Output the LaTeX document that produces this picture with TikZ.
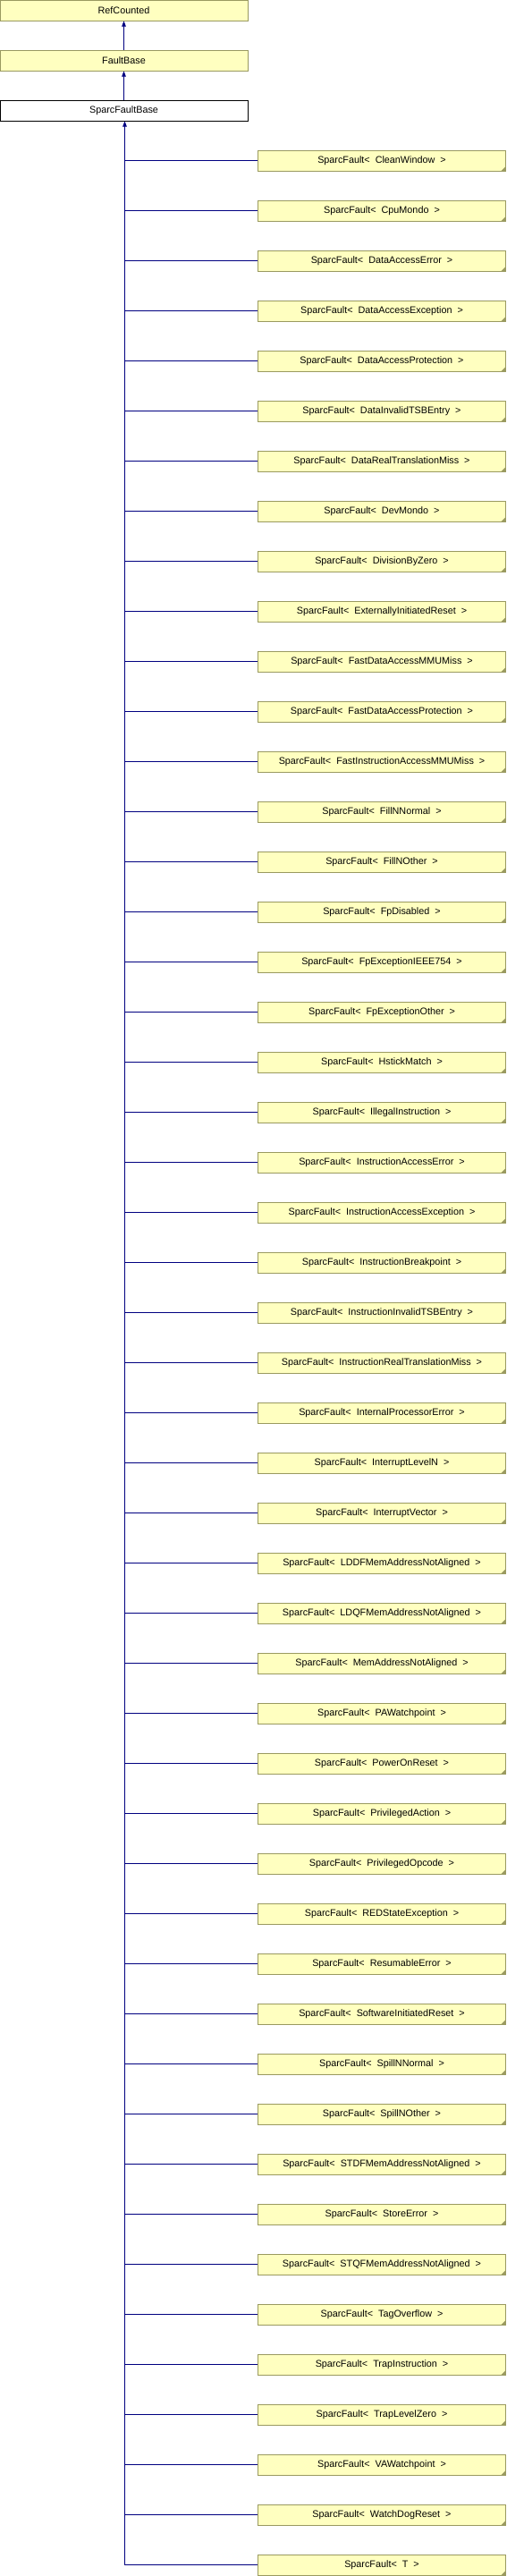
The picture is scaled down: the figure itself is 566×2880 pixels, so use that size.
\documentclass[tikz,border=0pt]{standalone}
\usepackage{fontspec}
\setmainfont{Liberation Sans}
\usetikzlibrary{arrows.meta}
\definecolor{boxfill}{HTML}{FFFFC0}
\definecolor{boxline}{HTML}{9A9A60}
\definecolor{edge}{HTML}{000080}
\begin{document}
\begin{tikzpicture}[x=1pt,y=-1pt,
  cls/.style={draw=boxline,fill=boxfill,line width=1pt,minimum height=23pt,inner sep=0pt,font=\fontsize{10.8}{12}\selectfont},
  plain/.style={draw=black,fill=white,line width=1pt,minimum height=23pt,inner sep=0pt,font=\fontsize{10.8}{12}\selectfont},
  inh/.style={draw=edge,line width=0.9pt,-{Triangle[length=6pt,width=4.5pt]}},
  ln/.style={draw=edge,line width=0.9pt}]
\useasboundingbox (0,0) rectangle (566,2880);
\node[cls,minimum width=277pt] (rc) at (138.5,11.5) {RefCounted};
\node[cls,minimum width=277pt] (fb) at (138.5,67.5) {FaultBase};
\node[plain,minimum width=277pt] (sfb) at (138.5,123.5) {SparcFaultBase};
\draw[inh] (fb.north) -- (rc.south);
\draw[inh] (sfb.north) -- (fb.south);
\foreach \n [count=\i from 0] in {CleanWindow,CpuMondo,DataAccessError,DataAccessException,DataAccessProtection,DataInvalidTSBEntry,DataRealTranslationMiss,DevMondo,DivisionByZero,ExternallyInitiatedReset,FastDataAccessMMUMiss,FastDataAccessProtection,FastInstructionAccessMMUMiss,FillNNormal,FillNOther,FpDisabled,FpExceptionIEEE754,FpExceptionOther,HstickMatch,IllegalInstruction,InstructionAccessError,InstructionAccessException,InstructionBreakpoint,InstructionInvalidTSBEntry,InstructionRealTranslationMiss,InternalProcessorError,InterruptLevelN,InterruptVector,LDDFMemAddressNotAligned,LDQFMemAddressNotAligned,MemAddressNotAligned,PAWatchpoint,PowerOnReset,PrivilegedAction,PrivilegedOpcode,REDStateException,ResumableError,SoftwareInitiatedReset,SpillNNormal,SpillNOther,STDFMemAddressNotAligned,StoreError,STQFMemAddressNotAligned,TagOverflow,TrapInstruction,TrapLevelZero,VAWatchpoint,WatchDogReset,T} {
  \node[cls,minimum width=277pt] (c\i) at (427,179.5+56*\i) {SparcFault<\ \ \n\ \ >};
  \fill[boxline] ([xshift=-0.5pt,yshift=0.5pt]c\i.south east) -- ++(0,-5) -- ++(-5,5) -- cycle;
  \coordinate (j\i) at (139.5,179.5+56*\i);
  \draw[ln] (c\i.west) -- (j\i);
}
\draw[inh] (j48) -- (sfb.south -| j48);
\end{tikzpicture}
\end{document}
